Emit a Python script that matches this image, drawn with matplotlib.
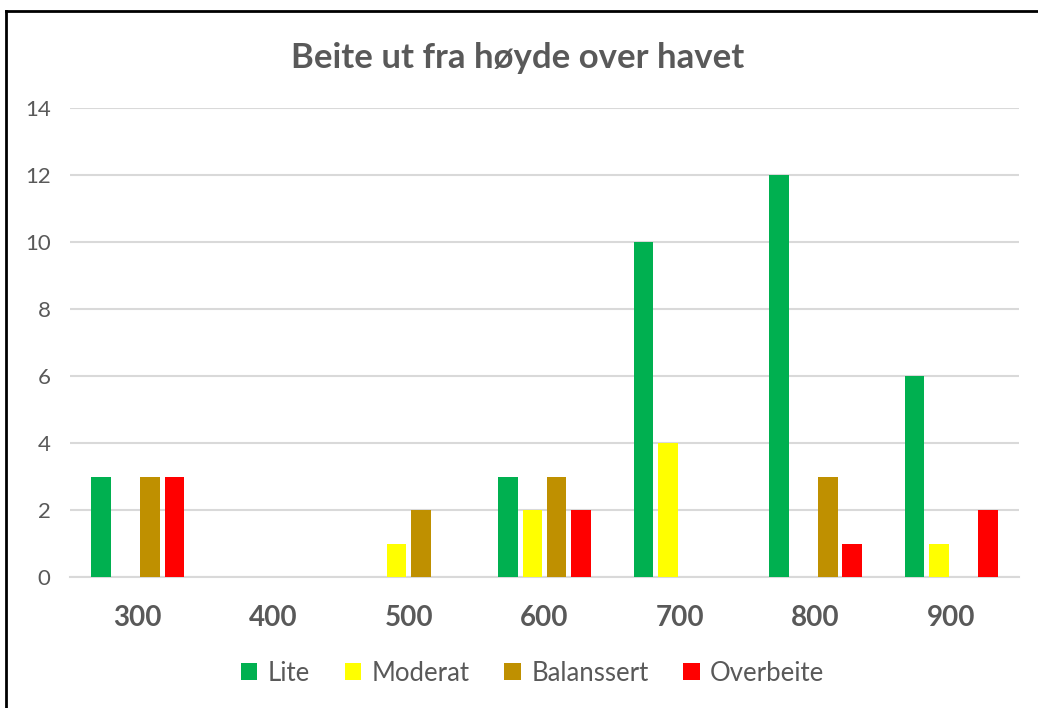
import matplotlib.pyplot as plt
from matplotlib.lines import Line2D
import numpy as np

kategorier = ['300', '400', '500', '600', '700', '800', '900']
lite = [3, 0, 0, 3, 10, 12, 6]
moderat = [0, 0, 1, 2, 4, 0, 1]
balansert = [3, 0, 2, 3, 0, 3, 0]
overbeite = [3, 0, 0, 2, 0, 1, 2]

serier = ['Lite', 'Moderat', 'Balanssert', 'Overbeite']
farger = ['#00B050', '#FFFF00', '#BF9000', '#FF0000']
yticks = [0, 2, 4, 6, 8, 10, 12, 14]

plt.rcParams['font.family'] = ['Lato', 'DejaVu Sans']
grå = '#595959'

fig = plt.figure(figsize=(10.38, 7.08), dpi=100)
ax = fig.add_axes([0.0674, 0.185, 0.9143, 0.6625])

x = np.arange(len(kategorier))
steg = 0.18
bredde = 0.144
for i, (verdier, navn, farge) in enumerate(zip([lite, moderat, balansert, overbeite], serier, farger)):
    ax.bar(x + (i - 1.5) * steg, verdier, bredde, color=farge, label=navn, zorder=3)

ax.set_xlim(-0.5, len(kategorier) - 0.5)
ax.set_ylim(0, 14)
ax.set_yticks(yticks)
ax.set_yticklabels([str(v) for v in yticks], fontsize=16, color=grå)
ax.set_xticks(x)
ax.set_xticklabels(kategorier, fontsize=20, fontweight='bold', color=grå)
ax.tick_params(axis='both', length=0)
ax.tick_params(axis='y', pad=14)
ax.tick_params(axis='x', pad=20)
ax.grid(axis='y', color='#D9D9D9', linewidth=1.5, zorder=0)
for s in ['top', 'right', 'left']:
    ax.spines[s].set_visible(False)
ax.spines['bottom'].set_color('#D9D9D9')
ax.spines['bottom'].set_linewidth(1.5)

fig.text(0.499, 0.918, 'Beite ut fra høyde over havet', ha='center', va='center',
         fontsize=25, fontweight='bold', color=grå)

fig.legend(loc='center', bbox_to_anchor=(0.513, 0.049), ncol=4, frameon=False,
           fontsize=18.5, labelcolor=grå, handlelength=0.65, handleheight=0.65,
           handletextpad=0.4, columnspacing=1.35)

# ramme rundt figuren
fig.add_artist(Line2D([6 / 1038, 6 / 1038], [0, 1 - 11 / 708], color='black', linewidth=2,
                      transform=fig.transFigure))
fig.add_artist(Line2D([6 / 1038, 1], [1 - 11 / 708, 1 - 11 / 708], color='black', linewidth=2,
                      transform=fig.transFigure))

fig.savefig('out.png', dpi=100)
